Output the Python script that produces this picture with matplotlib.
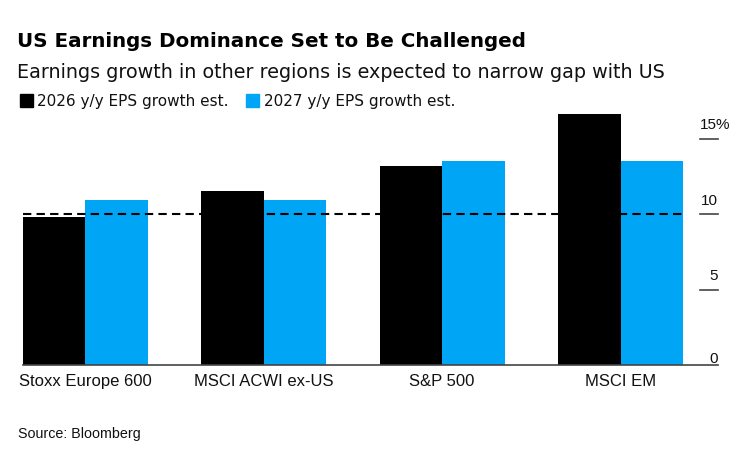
import matplotlib
matplotlib.use("Agg")
import matplotlib.pyplot as plt
import matplotlib.transforms as mtransforms
from matplotlib.patches import Rectangle
import numpy as np

categories = ["Stoxx Europe 600", "MSCI ACWI ex-US", "S&P 500", "MSCI EM"]
eps_2026 = [9.8, 11.5, 13.2, 16.6]
eps_2027 = [10.9, 10.9, 13.5, 13.5]
reference_level = 10.0
series_labels = ["2026 y/y EPS growth est.", "2027 y/y EPS growth est."]
yticks = [0, 5, 10, 15]
ytick_labels = ["0", "5", "10", "15%"]

BLACK = "#000000"
BLUE = "#00A6F5"
W, H = 740, 450
plt.rcParams['font.family'] = ['Liberation Sans', 'DejaVu Sans']
WIDE = ['DejaVu Sans']

fig = plt.figure(figsize=(W / 100, H / 100), dpi=100)

def fx(px):
    return px / W

def fy(py):
    return 1 - py / H

ax_left, ax_right = 22.7, 718
ax_top, ax_bottom = 100, 365
ax = fig.add_axes([fx(ax_left), fy(ax_bottom), fx(ax_right - ax_left), (ax_bottom - ax_top) / H])

x = np.arange(len(categories))
w = 0.35
ax.bar(x - w / 2, eps_2026, w, color=BLACK, linewidth=0)
ax.bar(x + w / 2, eps_2027, w, color=BLUE, linewidth=0)

px_per_unit = (683 - ax_left) / (3 + 2 * w)
xmin = -w
xmax = xmin + (ax_right - ax_left) / px_per_unit
ax.set_xlim(xmin, xmax)
ymax = (ax_bottom - ax_top) / 15.1
ax.set_ylim(0, ymax)

ax.hlines(reference_level, -w, len(categories) - 1 + w, colors=BLACK,
          linestyles=(0, (4, 2.5)), linewidth=1.5, zorder=3)

for s in ["top", "right", "left", "bottom"]:
    ax.spines[s].set_visible(False)
ax.axhline(0, color="#444444", linewidth=1.2, zorder=4, clip_on=False)
ax.set_xticks([])
ax.set_yticks([])

trans = mtransforms.blended_transform_factory(ax.transAxes, ax.transData)
tick_x0 = (700 - ax_left) / (ax_right - ax_left)
for v, lab in zip(yticks, ytick_labels):
    if v != 0:
        ax.plot([tick_x0, 1.0], [v, v], transform=trans, color="#444444",
                linewidth=1.2, clip_on=False)
    off = 2 / 15.1 if v == 0 else 9.5 / 15.1
    if lab.endswith("%"):
        ax.text(tick_x0, v + off, lab, transform=trans, ha="left", va="baseline",
                fontsize=11, color="#111111")
    else:
        ax.text(1.0, v + off, lab, transform=trans, ha="right", va="baseline",
                fontsize=11, color="#111111")

cat_trans = ax.transData + mtransforms.ScaledTranslation(0, -9 / 100, fig.dpi_scale_trans)
for xi, c in zip(x, categories):
    ax.text(xi, 0, c, transform=cat_trans, ha="center", va="top",
            fontsize=12, color="#111111")

fig.text(fx(17), fy(47), "US Earnings Dominance Set to Be Challenged", family=WIDE,
         fontsize=14.3, fontweight="bold", color=BLACK, ha="left", va="baseline")
fig.text(fx(17), fy(78.5), "Earnings growth in other regions is expected to narrow gap with US",
         family=WIDE, fontsize=13.8, color="#111111", ha="left", va="baseline")

# legend
for sx, col, lab, tx in [(20, BLACK, series_labels[0], 37), (246, BLUE, series_labels[1], 264)]:
    fig.patches.append(Rectangle((fx(sx), fy(106.5)), fx(13), 13 / H, color=col,
                                 transform=fig.transFigure, figure=fig))
    fig.text(fx(tx), fy(106), lab, family=WIDE, fontsize=11, color="#111111",
             ha="left", va="baseline")

fig.text(fx(18), fy(438), "Source: Bloomberg", fontsize=10.3, color="#111111",
         ha="left", va="baseline")

fig.savefig("out.png", dpi=100)
